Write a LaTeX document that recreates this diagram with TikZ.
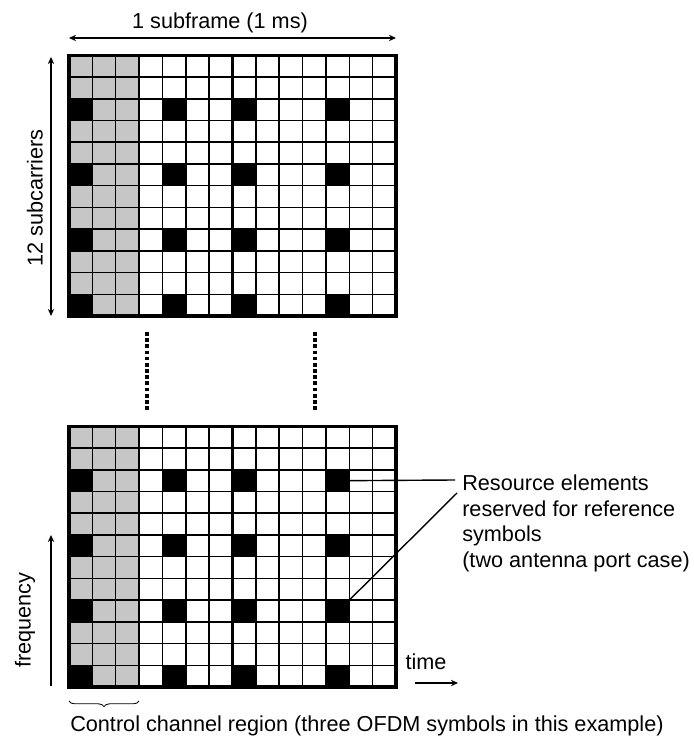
\documentclass[tikz,border=0pt]{standalone}
\usepackage{fontspec}
\setmainfont{Liberation Sans}
\usetikzlibrary{arrows.meta,decorations.pathreplacing}

\tikzset{
  cellline/.style={line width=1.1pt},
  slotline/.style={line width=1.9pt},
  frameline/.style={line width=2.4pt},
  ctrlcell/.style={fill=gray!45},
  rscell/.style={fill=black},
  gapline/.style={line width=2.2pt, dash pattern=on 2.6pt off 1.8pt},
  dimarrow/.style={{Stealth[length=5pt,width=4.5pt]}-{Stealth[length=5pt,width=4.5pt]}, line width=1pt},
  axisarrow/.style={-{Stealth[length=5pt,width=4.5pt]}, line width=1pt},
  leader/.style={line width=1pt},
  lbl/.style={font=\fontsize{15.4}{18.1}\selectfont, inner sep=0pt},
}

\begin{document}
\begin{tikzpicture}[x=0.025cm, y=0.025cm]
    \useasboundingbox (0,0) rectangle (694,737);

    % Two resource grids (top and bottom)
    \foreach \g/\gy in {top/421, bot/50} {
      \begin{scope}[shift={(69,\gy)}, xscale=23.36, yscale=21.72]
        \fill[ctrlcell] (0,0) rectangle (3,12);
        \foreach \c in {0,4,7,11}
          \foreach \r in {0,3,6,9}
            \fill[rscell] (\c,\r) rectangle ++(1,1);
        \foreach \c in {1,...,13}
          \draw[cellline] (\c,0) -- (\c,12);
        \foreach \r in {1,...,11}
          \draw[cellline] (0,\r) -- (14,\r);
        \draw[slotline] (7,0) -- (7,12);
        \draw[frameline] (0,0) rectangle (14,12);
        \coordinate (\g-rsA) at (12,9.5);
        \coordinate (\g-rsB) at (12,4);
      \end{scope}
    }

    % Dotted gap lines
    \draw[gapline] (147,405) -- (147,325);
    \draw[gapline] (315,405) -- (315,325);

    % Subframe width
    \coordinate (sfL) at (69,699);
    \coordinate (sfR) at (396,699);
    \draw[dimarrow] (sfL) -- (sfR);
    \node[lbl] (subframe) at (220,714) {1 subframe (1 ms)};

    % Subcarriers height
    \coordinate (scT) at (51,680);
    \coordinate (scB) at (51,421);
    \draw[dimarrow] (scT) -- (scB);
    \node[lbl, rotate=90] (subcarriers) at (35,539) {12 subcarriers};

    % Frequency axis
    \coordinate (fqB) at (51,51);
    \coordinate (fqT) at (51,202);
    \draw[axisarrow] (fqB) -- (fqT);
    \node[lbl, rotate=90] (frequency) at (25,117) {frequency};

    % Time axis
    \node[lbl] (time) at (426,75) {time};
    \coordinate (tmL) at (415,54);
    \coordinate (tmR) at (458,54);
    \draw[axisarrow] (tmL) -- (tmR);

    % Reference symbol callout
    \node[lbl, align=left, anchor=north west] (rs) at (462,262)
        {Resource elements\\reserved for reference\\symbols\\(two antenna port case)};
    \coordinate (callA) at (455,257);
    \coordinate (callB) at (457,244);
    \draw[leader] (bot-rsA) -- (callA);
    \draw[leader] (bot-rsB) -- (callB);

    % Control channel region
    \coordinate (brL) at (69,36);
    \coordinate (brR) at (139,36);
    \draw[line width=0.6pt, decorate, decoration={brace, mirror, amplitude=4pt}] (brL) -- (brR);
    \node[lbl, anchor=west] (ctrl) at (70,11)
        {Control channel region (three OFDM symbols in this example)};
\end{tikzpicture}
\end{document}
